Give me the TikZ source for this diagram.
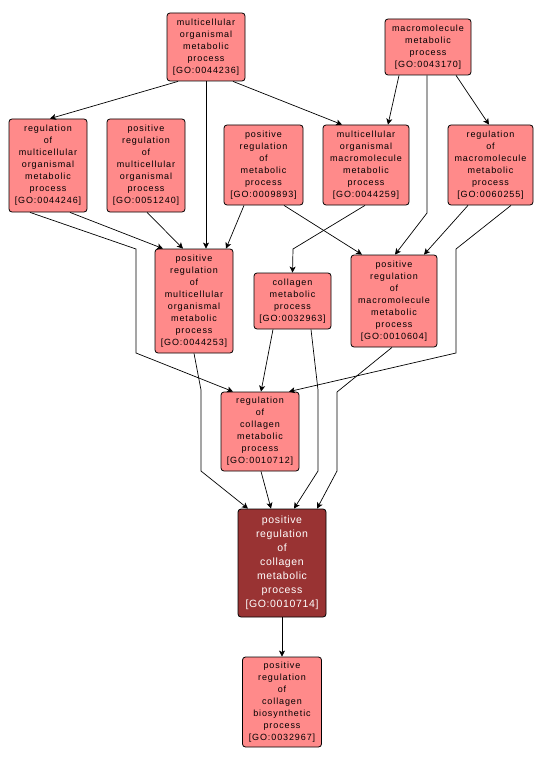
\documentclass[tikz,border=0pt]{standalone}
\usepackage{fontspec}
\usepackage{tikz}
\usetikzlibrary{arrows.meta}
\newfontfamily\gofont[LetterSpace=10]{Liberation Sans}
\newfontfamily\gofontbig[LetterSpace=6]{Liberation Sans}
\definecolor{termfill}{RGB}{255,138,138}
\definecolor{focusfill}{RGB}{153,51,51}

\begin{document}
\begin{tikzpicture}[x=1pt,y=-1pt,
  term/.style={draw=black, line width=0.8pt, rounded corners=3pt, fill=termfill,
    align=center, inner sep=0pt, font=\gofont\fontsize{9}{12}\selectfont},
  focus/.style={term, fill=focusfill, text=white, font=\gofontbig\fontsize{10.5}{14}\selectfont},
  isa/.style={-{Stealth[length=6pt,width=6pt,inset=1.5pt]}, line width=0.7pt}]
  \useasboundingbox (0,0) rectangle (544,762);

  % top row
  \node[term, minimum width=78, minimum height=68] (meta) at (206,47)
    {multicellular\\organismal\\metabolic\\process\\{[GO:0044236]}};
  \node[term, minimum width=86, minimum height=56] (macro) at (428,47)
    {macromolecule\\metabolic\\process\\{[GO:0043170]}};

  % second row
  \node[term, minimum width=78, minimum height=93] (regmulti) at (48,165.5)
    {regulation\\of\\multicellular\\organismal\\metabolic\\process\\{[GO:0044246]}};
  \node[term, minimum width=78, minimum height=93] (posmultiorg) at (146,165.5)
    {positive\\regulation\\of\\multicellular\\organismal\\process\\{[GO:0051240]}};
  \node[term, minimum width=79, minimum height=80] (posmeta) at (263.5,165)
    {positive\\regulation\\of\\metabolic\\process\\{[GO:0009893]}};
  \node[term, minimum width=86, minimum height=80] (multimacro) at (366,165)
    {multicellular\\organismal\\macromolecule\\metabolic\\process\\{[GO:0044259]}};
  \node[term, minimum width=85, minimum height=80] (regmacro) at (490.5,165)
    {regulation\\of\\macromolecule\\metabolic\\process\\{[GO:0060255]}};

  % third row
  \node[term, minimum width=78, minimum height=104] (posmulti) at (194,301)
    {positive\\regulation\\of\\multicellular\\organismal\\metabolic\\process\\{[GO:0044253]}};
  \node[term, minimum width=77, minimum height=56] (collagen) at (292.5,301)
    {collagen\\metabolic\\process\\{[GO:0032963]}};
  \node[term, minimum width=86, minimum height=92] (posmacro) at (394,301)
    {positive\\regulation\\of\\macromolecule\\metabolic\\process\\{[GO:0010604]}};

  % lower part
  \node[term, minimum width=78, minimum height=79] (regcoll) at (260,431.5)
    {regulation\\of\\collagen\\metabolic\\process\\{[GO:0010712]}};
  \node[focus, minimum width=88, minimum height=108] (poscoll) at (282,563)
    {positive\\regulation\\of\\collagen\\metabolic\\process\\{[GO:0010714]}};
  \node[term, minimum width=79, minimum height=90] (posbiosyn) at (282,702)
    {positive\\regulation\\of\\collagen\\biosynthetic\\process\\{[GO:0032967]}};

  % edges
  \draw[isa] ([xshift=-28]meta.south) -- ([xshift=2]regmulti.north);
  \draw[isa] (meta.south) -- ([xshift=12]posmulti.north);
  \draw[isa] ([xshift=27]meta.south) -- ([xshift=-24]multimacro.north);
  \draw[isa] ([xshift=-29]macro.south) -- ([xshift=22]multimacro.north);
  \draw[isa] ([xshift=28]macro.south) -- ([xshift=-1.5]regmacro.north);
  \draw[isa] ([xshift=-1]macro.south) -- (427,213) -- ([xshift=1]posmacro.north);
  \draw[isa] ([xshift=-18]regmulti.south) -- (136,249) -- (136,353) -- ([xshift=-27]regcoll.north);
  \draw[isa] ([xshift=22]regmulti.south) -- ([xshift=-31]posmulti.north);
  \draw[isa] ([xshift=1]posmultiorg.south) -- ([xshift=-11]posmulti.north);
  \draw[isa] ([xshift=-19.5]posmeta.south) -- ([xshift=32]posmulti.north);
  \draw[isa] ([xshift=20.5]posmeta.south) -- ([xshift=-32]posmacro.north);
  \draw[isa] ([xshift=-1]multimacro.south) -- (293,249) -- (collagen.north);
  \draw[isa] ([xshift=-22.5]regmacro.south) -- ([xshift=30]posmacro.north);
  \draw[isa] ([xshift=20.5]regmacro.south) -- (456,249) -- (456,353) -- ([xshift=29]regcoll.north);
  \draw[isa] (posmulti.south) -- (201,390) -- (201,471) -- ([xshift=-34]poscoll.north);
  \draw[isa] ([xshift=-19.5]collagen.south) -- ([xshift=1]regcoll.north);
  \draw[isa] ([xshift=18.5]collagen.south) -- (318,390) -- (318,471) -- ([xshift=12]poscoll.north);
  \draw[isa] ([xshift=-2]posmacro.south) -- (337,392) -- (337,471) -- ([xshift=35]poscoll.north);
  \draw[isa] ([xshift=1]regcoll.south) -- ([xshift=-11]poscoll.north);
  \draw[isa] (poscoll.south) -- (posbiosyn.north);
\end{tikzpicture}
\end{document}
